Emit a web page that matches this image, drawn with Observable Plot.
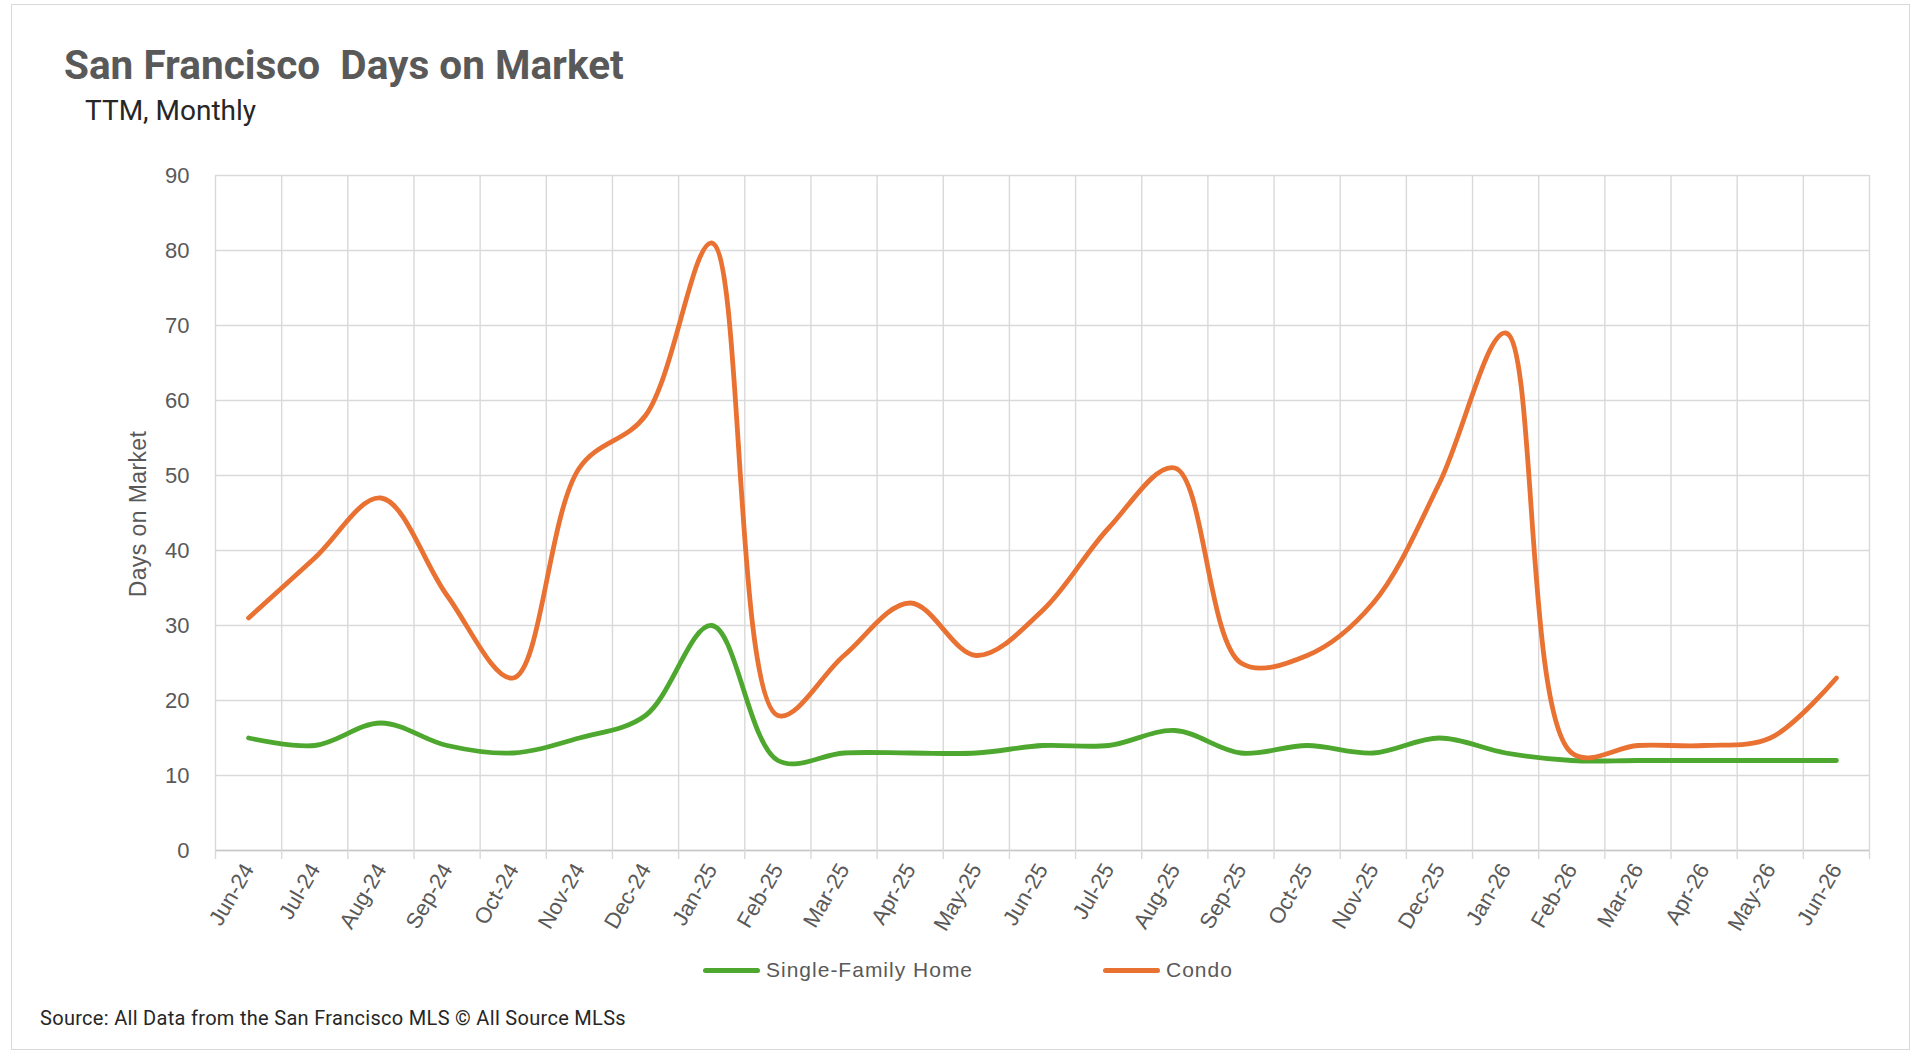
<!DOCTYPE html>
<html>
<head>
<meta charset="utf-8">
<script src="https://cdn.jsdelivr.net/npm/d3@7"></script>
<script src="https://cdn.jsdelivr.net/npm/@observablehq/plot@0.6"></script>
<style>
  html, body { margin: 0; padding: 0; background: #fff; }
  #wrap { position: relative; width: 1920px; height: 1057px; overflow: hidden; font-family: "Liberation Sans", Arial, sans-serif; }
  #frame { position: absolute; left: 11px; top: 4px; width: 1899px; height: 1046px; border: 1.5px solid #d9d9d9; box-sizing: border-box; }
  #chart { position: absolute; left: 0; top: 0; }
  #title { position: absolute; left: 64px; top: 45px; font: 700 40.5px Roboto, sans-serif; color: #595959; white-space: pre; line-height: 1; }
  #subtitle { position: absolute; left: 85px; top: 97px; font: 400 28px Roboto, sans-serif; color: #262626; white-space: pre; line-height: 1; }
  #ytitle { position: absolute; left: 138px; top: 514px; transform: translate(-50%, -50%) rotate(-90deg); font-size: 23px; letter-spacing: 0.4px; color: #595959; white-space: nowrap; }
  .leg { position: absolute; top: 958px; display: flex; align-items: center; font-size: 21px; letter-spacing: 1px; color: #595959; white-space: nowrap; }
  .leg span.key { display: inline-block; width: 57px; height: 5px; border-radius: 3px; margin-right: 6px; }
  #source { position: absolute; left: 40px; top: 1006px; font: 400 20px Roboto, sans-serif; letter-spacing: 0.3px; color: #262626; white-space: nowrap; }
</style>
</head>
<body>
<div id="wrap">
  <div id="frame"></div>
  <div id="chart"></div>
  <div id="title">San Francisco  Days on Market</div>
  <div id="subtitle">TTM, Monthly</div>
  <div id="ytitle">Days on Market</div>
  <div id="legend"></div>
  <div id="source">Source: All Data from the San Francisco MLS © All Source MLSs</div>
</div>
<script>
// ---- data ----
const months = ["Jun-24","Jul-24","Aug-24","Sep-24","Oct-24","Nov-24","Dec-24","Jan-25","Feb-25","Mar-25","Apr-25","May-25","Jun-25","Jul-25","Aug-25","Sep-25","Oct-25","Nov-25","Dec-25","Jan-26","Feb-26","Mar-26","Apr-26","May-26","Jun-26"];
const singleFamily = [15, 14, 17, 14, 13, 15, 18, 30, 12, 13, 13, 13, 14, 14, 16, 13, 14, 13, 15, 13, 12, 12, 12, 12, 12];
const condo = [31, 39, 47, 34, 23, 51, 58, 81, 18, 26, 33, 26, 32, 43, 51, 25, 26, 33, 49, 69, 13, 14, 14, 15, 23];
const yTicks = [0, 10, 20, 30, 40, 50, 60, 70, 80, 90];
const seriesNames = ["Single-Family Home", "Condo"];
const seriesColors = ["#4EA72E", "#E97132"];
const seriesValues = [singleFamily, condo];

// ---- build table ----
const rows = seriesNames.flatMap((s, k) => months.map((m, i) => ({ i, month: m, series: s, value: seriesValues[k][i] })));
const centers = d3.range(months.length);
const bounds = d3.range(months.length + 1).map(k => k - 0.5);

const chart = Plot.plot({
  width: 1920,
  height: 960,
  marginLeft: 215,
  marginRight: 51,
  marginTop: 175,
  marginBottom: 110,
  x: { domain: [-0.5, months.length - 0.5] },
  y: { domain: [0, 90] },
  color: { domain: seriesNames, range: seriesColors },
  style: { fontFamily: "'Liberation Sans', Arial, sans-serif", background: "transparent", color: "#595959" },
  marks: [
    Plot.gridY(yTicks, { stroke: "#d9d9d9", strokeOpacity: 1, strokeWidth: 1.4 }),
    Plot.gridX(bounds, { stroke: "#d9d9d9", strokeOpacity: 1, strokeWidth: 1.4 }),
    Plot.ruleY([0], { stroke: "#c8c8c8", strokeWidth: 1.6 }),
    Plot.axisX(bounds, { tickSize: 9, tickFormat: () => "", stroke: "#d9d9d9", strokeWidth: 1.4, label: null }),
    Plot.axisX(centers, { tickSize: 0, tickPadding: 15, tickRotate: -60, tickFormat: i => months[i], fontSize: 22, fill: "#595959", label: null }),
    Plot.axisY(yTicks, { tickSize: 0, tickPadding: 26, fontSize: 22, fill: "#595959", label: null }),
    Plot.line(rows, { x: "i", y: "value", z: "series", stroke: "series", strokeWidth: 4.8, curve: "catmull-rom", strokeLinecap: "round", strokeLinejoin: "round" })
  ]
});
document.getElementById("chart").appendChild(chart);

// ---- legend ----
const legendLeft = [703, 1103];
const legend = document.getElementById("legend");
seriesNames.forEach((s, k) => {
  const d = document.createElement("div");
  d.className = "leg";
  d.style.left = legendLeft[k] + "px";
  const key = document.createElement("span");
  key.className = "key";
  key.style.background = seriesColors[k];
  d.appendChild(key);
  d.appendChild(document.createTextNode(s));
  legend.appendChild(d);
});
</script>
</body>
</html>
